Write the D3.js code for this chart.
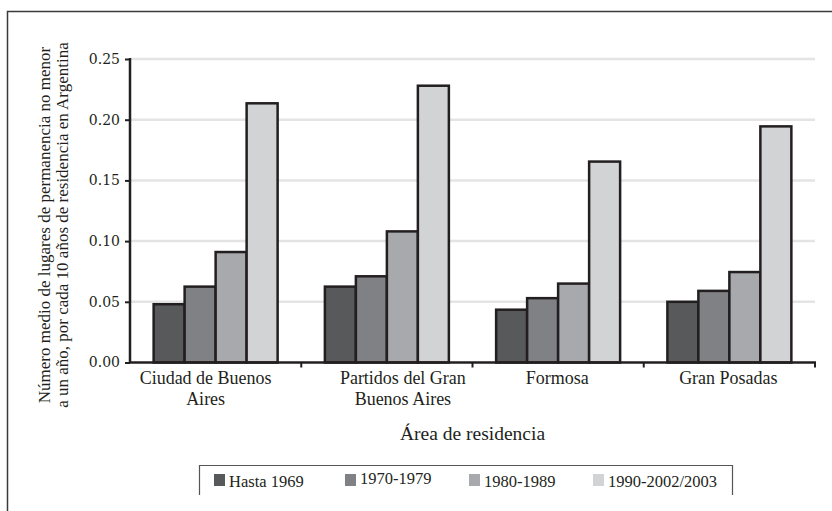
<!DOCTYPE html>
<html><head><meta charset="utf-8">
<script src="https://cdn.jsdelivr.net/npm/d3@7"></script>
<style>body{margin:0;background:#fff}svg{display:block}
.serif{font-family:"Liberation Serif","Times New Roman",serif}
.tick text{font-family:"DejaVu Serif",serif}
</style>
</head><body>
<script>
const categories = [["Ciudad de Buenos","Aires"],["Partidos del Gran","Buenos Aires"],["Formosa"],["Gran Posadas"]];
const seriesNames = ["Hasta 1969","1970-1979","1980-1989","1990-2002/2003"];
const hasta1969 = [0.048, 0.0625, 0.0435, 0.050];
const s1970 = [0.0625, 0.071, 0.053, 0.059];
const s1980 = [0.091, 0.108, 0.065, 0.0745];
const s1990 = [0.2135, 0.228, 0.1655, 0.1945];
const yTicks = [0, 0.05, 0.10, 0.15, 0.20, 0.25];
const colors = ["#58595b","#808184","#a7a9ac","#d1d3d4"];

(function(){
const W=832,H=511;
const svg=d3.select("body").append("svg").attr("width",W).attr("height",H);
svg.append("path").attr("d","M7.5,520 V11.5 H840").attr("fill","none").attr("stroke","#3a3a3a").attr("stroke-width",1.5);

const pL=130,pR=815,pT=59,pB=362.5;
const labelShift=[-10,16,-1,-1];
const legendOffsets=[0,131,255,379];
const catKeys = categories.map(c=>c.join(" "));
const x0=d3.scaleBand().domain(catKeys).range([pL,pR]).paddingInner(0.276).paddingOuter(0.138);
const x1=d3.scaleBand().domain(seriesNames).range([0,x0.bandwidth()]);
const y=d3.scaleLinear().domain([0,0.25]).range([pB,pT]);
const series=[hasta1969,s1970,s1980,s1990];

svg.append("g").selectAll("line").data(yTicks.slice(1)).join("line")
  .attr("x1",pL).attr("x2",pR).attr("y1",d=>y(d)).attr("y2",d=>y(d))
  .attr("stroke","#e4e4e4").attr("stroke-width",2.5);

const g=svg.append("g").selectAll("g").data(catKeys).join("g")
  .attr("transform",d=>`translate(${x0(d)},0)`);
g.selectAll("rect").data((d,i)=>series.map((s,j)=>({k:seriesNames[j],v:s[i],c:colors[j]}))).join("rect")
  .attr("x",d=>x1(d.k)).attr("width",x1.bandwidth())
  .attr("y",d=>y(d.v)).attr("height",d=>pB-y(d.v))
  .attr("fill",d=>d.c).attr("stroke","#231f20").attr("stroke-width",2.5);

const ya=svg.append("g").attr("transform",`translate(${pL},0)`)
  .call(d3.axisLeft(y).tickValues(yTicks).tickFormat(d3.format(".2f")).tickSize(5).tickPadding(5));
ya.attr("font-family",null).attr("font-size",null);
ya.select(".domain").attr("stroke","#231f20").attr("stroke-width",2.5).attr("d",`M0,${pT-1}V${pB}`);
ya.selectAll(".tick line").attr("stroke","#231f20").attr("stroke-width",2);
ya.selectAll(".tick text").style("font-size","14px").attr("fill","#231f20");

svg.append("line").attr("x1",pL-1).attr("x2",pR+1).attr("y1",pB).attr("y2",pB).attr("stroke","#231f20").attr("stroke-width",2.5);
const bounds=catKeys.map(k=>x0(k)-x0.step()*x0.paddingInner()/2).concat([pR]);
svg.append("g").selectAll("line").data(bounds.slice(1)).join("line")
  .attr("x1",d=>d).attr("x2",d=>d).attr("y1",pB).attr("y2",pB+5).attr("stroke","#231f20").attr("stroke-width",2);

svg.append("g").selectAll("text").data(categories).join("text").attr("class","serif")
  .attr("x",(d,i)=>x0(catKeys[i])+x0.bandwidth()/2+labelShift[i]).attr("y",384)
  .attr("text-anchor","middle").style("font-size","18px").attr("fill","#231f20")
  .selectAll("tspan").data(d=>d).join("tspan")
  .attr("x",function(){return this.parentNode.getAttribute("x");}).attr("dy",(d,i)=>i?21:0).text(d=>d);

svg.append("text").attr("class","serif").attr("x",(pL+pR)/2).attr("y",440).attr("text-anchor","middle")
  .style("font-size","19.5px").attr("fill","#231f20").text("Área de residencia");

const yl=svg.append("text").attr("class","serif").attr("transform","translate(0,225) rotate(-90)").attr("text-anchor","middle")
  .style("font-size","17px").attr("fill","#231f20");
yl.append("tspan").attr("x",0).attr("y",50).text("Número medio de lugares de permanencia no menor");
yl.append("tspan").attr("x",0).attr("y",68).text("a un año, por cada 10 años de residencia en Argentina");

svg.append("path").attr("d","M199.5,495 V465.5 H732.5 V495").attr("fill","none").attr("stroke","#555").attr("stroke-width",1.2);
const lg=svg.append("g").selectAll("g").data(seriesNames).join("g")
  .attr("transform",(d,i)=>`translate(${214+legendOffsets[i]},0)`);
lg.append("rect").attr("x",0).attr("y",474).attr("width",11).attr("height",12).attr("fill",(d,i)=>colors[i]);
lg.append("text").attr("class","serif").attr("x",15).attr("y",(d,i)=>i===1?484:487).style("font-size","16.5px").attr("fill","#231f20").text(d=>d);
})();
</script>
</body></html>
